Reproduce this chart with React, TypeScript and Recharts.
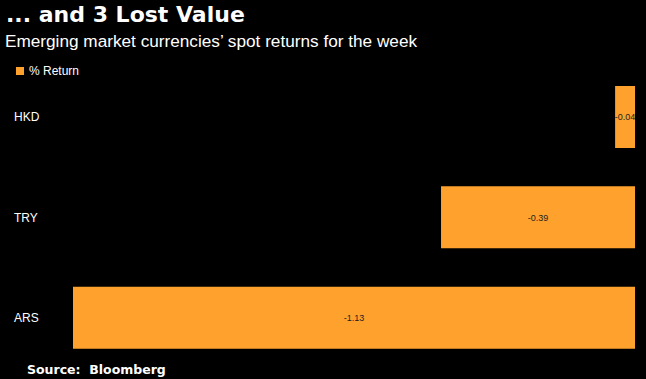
import { BarChart, Bar, XAxis, YAxis, LabelList } from "recharts";

const currencies = ["HKD", "TRY", "ARS"];
const returns = [-0.04, -0.39, -1.13];
const seriesName = "% Return";

const ORANGE = "#ffa22d";

const data = currencies.map((c, i) => ({ name: c, value: returns[i] }));

const CategoryTick = ({ y, payload }: any) => (
  <text x={14} y={y} dy={4} textAnchor="start" fill="#ffffff" fontSize={12} fontFamily="Liberation Sans, Arial, sans-serif">
    {payload.value}
  </text>
);

export default function App() {
  return (
    <div style={{ position: "fixed", left: 0, top: 0, width: 646, height: 379, background: "#000", overflow: "hidden" }}>
      <div style={{ position: "absolute", left: 6, top: 2, color: "#fff", fontFamily: "DejaVu Sans, Verdana, sans-serif", fontWeight: "bold", fontSize: 22 }}>
        ... and 3 Lost Value
      </div>
      <div style={{ position: "absolute", left: 5, top: 31, color: "#fff", fontFamily: "Liberation Sans, Arial, sans-serif", fontSize: 17.2 }}>
        Emerging market currencies’ spot returns for the week
      </div>
      <div style={{ position: "absolute", left: 16, top: 64, display: "flex", alignItems: "center", color: "#fff", fontFamily: "Liberation Sans, Arial, sans-serif", fontSize: 12 }}>
        <span style={{ display: "inline-block", width: 8, height: 8, background: ORANGE, marginRight: 5 }} />
        {seriesName}
      </div>
      <div style={{ position: "absolute", left: 0, top: 0 }}>
        <BarChart width={646} height={379} data={data} layout="vertical" margin={{ top: 67, right: 11, bottom: 11, left: 0 }}>
          <XAxis type="number" domain={[-1.13, 0]} hide />
          <YAxis type="category" dataKey="name" width={73} axisLine={false} tickLine={false} tick={<CategoryTick />} />
          <Bar dataKey="value" fill={ORANGE} barSize={62} isAnimationActive={false}>
            <LabelList dataKey="value" position="center" fill="#222" fontSize={9} fontFamily="Liberation Sans, Arial, sans-serif" />
          </Bar>
        </BarChart>
      </div>
      <div style={{ position: "absolute", left: 27, top: 362, color: "#fff", fontFamily: "DejaVu Sans, Verdana, sans-serif", fontWeight: "bold", fontSize: 12.5, whiteSpace: "pre" }}>
        Source:  Bloomberg
      </div>
    </div>
  );
}
